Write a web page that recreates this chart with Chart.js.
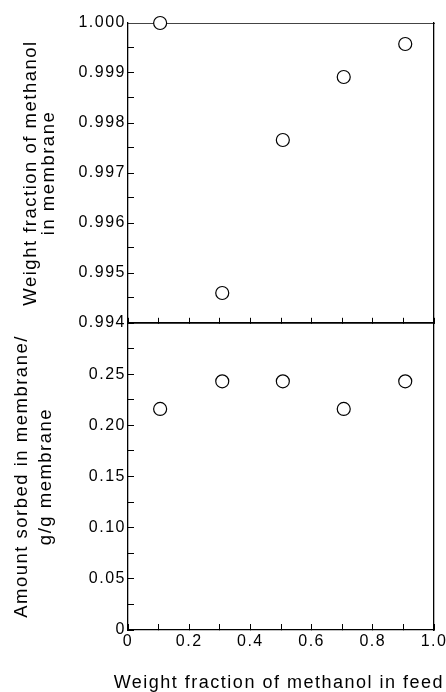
<!DOCTYPE html>
<html>
<head>
<meta charset="utf-8">
<script src="https://cdn.jsdelivr.net/npm/chart.js@4.4.1/dist/chart.umd.min.js"></script>
<style>
  body { margin: 0; background: #fff; }
  #wrap { width: 446px; height: 692px; }
</style>
</head>
<body>
<div id="wrap"><canvas id="chart" width="446" height="692"></canvas></div>
<script>
// weight fraction of methanol in the feed (shared x)
const feedFraction = [0.105, 0.308, 0.506, 0.705, 0.906];
// top panel: weight fraction of methanol in membrane
const membraneFraction = [1.0000, 0.99460, 0.99766, 0.99892, 0.99958];
// bottom panel: amount sorbed, g/g membrane
const amountSorbed = [0.216, 0.243, 0.243, 0.216, 0.243];

// labelled ticks
const xTickValues = [0, 0.2, 0.4, 0.6, 0.8, 1.0];
const xTickLabels = ["0", "0.2", "0.4", "0.6", "0.8", "1.0"];
const topTickValues = [0.994, 0.995, 0.996, 0.997, 0.998, 0.999, 1.0];
const topTickLabels = ["0.994", "0.995", "0.996", "0.997", "0.998", "0.999", "1.000"];
const botTickValues = [0, 0.05, 0.10, 0.15, 0.20, 0.25];
const botTickLabels = ["0", "0.05", "0.10", "0.15", "0.20", "0.25"];

const black = "#000";
const family = "'Liberation Sans', Arial, Helvetica, sans-serif";
const tickFont = { family: family, size: 16 };

function labelFor(values, labels) {
    return function (value) {
        const i = values.findIndex(t => Math.abs(t - value) < 1e-7);
        return i >= 0 ? labels[i] : "";
    };
}
function fixWidth(w) { return scale => { scale.width = w; }; }
// fixed height, and no extra room for the end labels
function fixHeight(h) {
    return scale => {
        scale.height = h;
        scale.paddingLeft = 0;
        scale.paddingRight = 0;
    };
}

// the scanned figure uses loosely spaced type
const spacing = {
    id: "spacing",
    beforeLayout(chart) { chart.ctx.letterSpacing = "1.5px"; },
    beforeDraw(chart) { chart.ctx.letterSpacing = "1.5px"; }
};

const innerTicks = { drawOnChartArea: false, tickLength: -6, tickColor: black, tickWidth: 1 };

new Chart(document.getElementById("chart"), {
    type: "scatter",
    data: {
        datasets: [
            {
                data: feedFraction.map((x, i) => ({ x: x, y: membraneFraction[i] })),
                xAxisID: "x",
                yAxisID: "yTop"
            },
            {
                data: feedFraction.map((x, i) => ({ x: x, y: amountSorbed[i] })),
                xAxisID: "x",
                yAxisID: "yBot"
            }
        ]
    },
    options: {
        responsive: false,
        animation: false,
        layout: { padding: { top: 23, right: 2, left: 0, bottom: 0 } },
        elements: {
            point: {
                pointStyle: "circle",
                radius: 6.5,
                borderWidth: 1.2,
                borderColor: black,
                backgroundColor: "#fff"
            }
        },
        datasets: { scatter: { clip: false } },
        plugins: {
            legend: { display: false },
            tooltip: { enabled: false },
            // x axis title, wider than the plot itself
            title: {
                display: true,
                position: "bottom",
                align: "end",
                text: "Weight fraction of methanol in feed",
                color: black,
                font: { family: family, size: 18, weight: "normal", lineHeight: 1 },
                padding: 0
            }
        },
        scales: {
            x: {
                type: "linear",
                position: "bottom",
                min: 0,
                max: 1,
                ticks: {
                    stepSize: 0.1,
                    autoSkip: false,
                    maxRotation: 0,
                    padding: 8,
                    color: black,
                    font: tickFont,
                    callback: labelFor(xTickValues, xTickLabels)
                },
                grid: innerTicks,
                border: { color: black, width: 1.3 },
                afterFit: fixHeight(44)
            },
            xMid: {
                type: "linear",
                axis: "x",
                position: { yTop: 0.994 },
                min: 0,
                max: 1,
                ticks: { stepSize: 0.1, autoSkip: false, callback: () => "" },
                grid: innerTicks,
                border: { color: black, width: 1.8 },
                afterFit: fixHeight(0)
            },
            xTop: {
                type: "linear",
                axis: "x",
                position: "top",
                min: 0,
                max: 1,
                ticks: { display: false },
                grid: { display: false, drawTicks: false },
                border: { color: "#444", width: 1 },
                afterFit: fixHeight(0)
            },
            yTop: {
                type: "linear",
                position: "left",
                stack: "panels",
                stackWeight: 300,
                weight: 2,
                min: 0.994,
                max: 1.0,
                ticks: {
                    stepSize: 0.0005,
                    autoSkip: false,
                    padding: 8,
                    color: black,
                    font: tickFont,
                    callback: labelFor(topTickValues, topTickLabels)
                },
                grid: innerTicks,
                border: { color: black, width: 1.3 },
                title: {
                    display: true,
                    text: ["Weight fraction of methanol", "in membrane"],
                    color: black,
                    font: { family: family, size: 18.5, lineHeight: "18px" },
                    padding: { top: 22, bottom: 0 }
                },
                afterFit: fixWidth(128)
            },
            yBot: {
                type: "linear",
                position: "left",
                stack: "panels",
                stackWeight: 307,
                weight: 1,
                min: 0,
                max: 0.3,
                ticks: {
                    stepSize: 0.025,
                    autoSkip: false,
                    padding: 8,
                    color: black,
                    font: tickFont,
                    callback: labelFor(botTickValues, botTickLabels)
                },
                grid: innerTicks,
                border: { color: black, width: 1.3 },
                title: {
                    display: true,
                    text: ["Amount sorbed in membrane/", "g/g membrane"],
                    color: black,
                    font: { family: family, size: 18.5, lineHeight: "24px" },
                    padding: { top: 10, bottom: 0 }
                },
                afterFit: fixWidth(128)
            },
            yRight: {
                type: "linear",
                position: "right",
                min: 0,
                max: 1,
                ticks: { display: false },
                grid: { display: false, drawTicks: false },
                border: { color: black, width: 1.3 },
                afterFit: fixWidth(10)
            }
        }
    },
    plugins: [spacing]
});
</script>
</body>
</html>
